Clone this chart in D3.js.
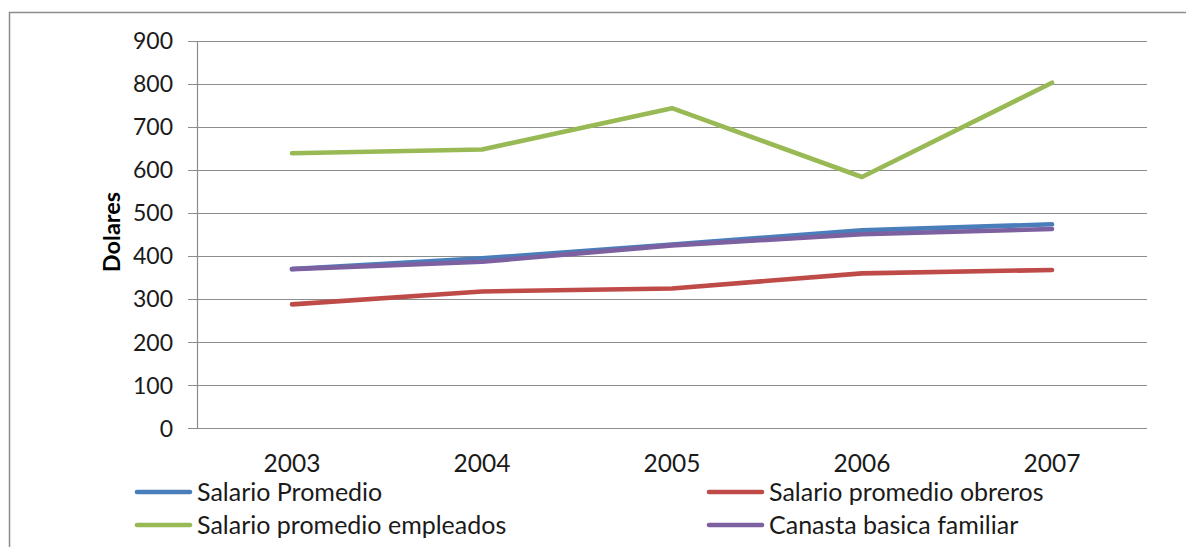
<!DOCTYPE html>
<html><head><meta charset="utf-8">
<script src="https://cdn.jsdelivr.net/npm/d3@7"></script>
<style>body{margin:0;background:#fff;}svg{display:block;font-family:Lato,"Open Sans",sans-serif;}</style>
</head><body>
<svg id="c" width="1186" height="547"></svg>
<script>
const years = ["2003","2004","2005","2006","2007"];
const salarioPromedio = [370, 395, 427, 460, 474];
const salarioObreros = [288, 318, 325, 360, 368];
const salarioEmpleados = [639, 648, 744, 584, 803];
const canastaBasica = [370, 387, 425, 451, 463];
const yTicks = [0,100,200,300,400,500,600,700,800,900];
const seriesNames = ["Salario Promedio","Salario promedio obreros","Salario promedio empleados","Canasta basica familiar"];
const seriesColors = ["#4a7ebb","#be4b48","#98b954","#7d60a0"];
const seriesData = [salarioPromedio, salarioObreros, salarioEmpleados, canastaBasica];

(function(){
const svg = d3.select("#c");
svg.append("rect").attr("x",9.5).attr("y",12.5).attr("width",1200).attr("height",600)
  .attr("fill","none").attr("stroke","#8c8c8c").attr("stroke-width",1.5);

const pL=197, pR=1147, pT=41, pB=428.3;
const x = d3.scaleBand().domain(years).range([pL,pR]);
const y = d3.scaleLinear().domain([0,900]).range([pB,pT]);

svg.append("g").selectAll("line").data(yTicks).join("line")
  .attr("x1",pL-9).attr("x2",pR)
  .attr("y1",d=>Math.round(y(d))+0.5).attr("y2",d=>Math.round(y(d))+0.5)
  .attr("stroke","#8c8c8c").attr("stroke-width",1.2);
svg.append("line").attr("x1",pL+0.5).attr("x2",pL+0.5).attr("y1",pT).attr("y2",pB)
  .attr("stroke","#8c8c8c").attr("stroke-width",1.2);

svg.append("g").selectAll("text").data(yTicks).join("text")
  .attr("x",pL-24).attr("y",d=>y(d)).attr("dy","0.36em").attr("text-anchor","end")
  .attr("font-size",23).attr("fill","#1a1a1a").text(d=>d);
svg.append("g").selectAll("text").data(years).join("text")
  .attr("x",d=>x(d)+x.bandwidth()/2).attr("y",472).attr("text-anchor","middle")
  .attr("font-size",24.5).attr("fill","#1a1a1a").text(d=>d);
svg.append("text").attr("transform","translate(120,232) rotate(-90)").attr("text-anchor","middle")
  .attr("font-size",23.5).attr("font-weight","bold").attr("fill","#000").text("Dolares");

const line = d3.line().x((d,i)=>x(years[i])+x.bandwidth()/2).y(d=>y(d));
seriesData.forEach((s,k)=>{
  svg.append("path").attr("d",line(s)).attr("fill","none").attr("stroke",seriesColors[k])
    .attr("stroke-width",4.6).attr("stroke-linecap","round").attr("stroke-linejoin","round");
});

const legPos = [[137,492],[709,492],[137,525],[709,525]];
seriesNames.forEach((n,k)=>{
  const [lx,ly]=legPos[k];
  svg.append("line").attr("x1",lx).attr("x2",lx+53).attr("y1",ly).attr("y2",ly)
    .attr("stroke",seriesColors[k]).attr("stroke-width",4.6).attr("stroke-linecap","round");
  svg.append("text").attr("x",lx+60).attr("y",ly).attr("dy","0.36em")
    .attr("font-size",25).attr("fill","#1a1a1a").text(n);
});
})();
</script>
</body></html>
